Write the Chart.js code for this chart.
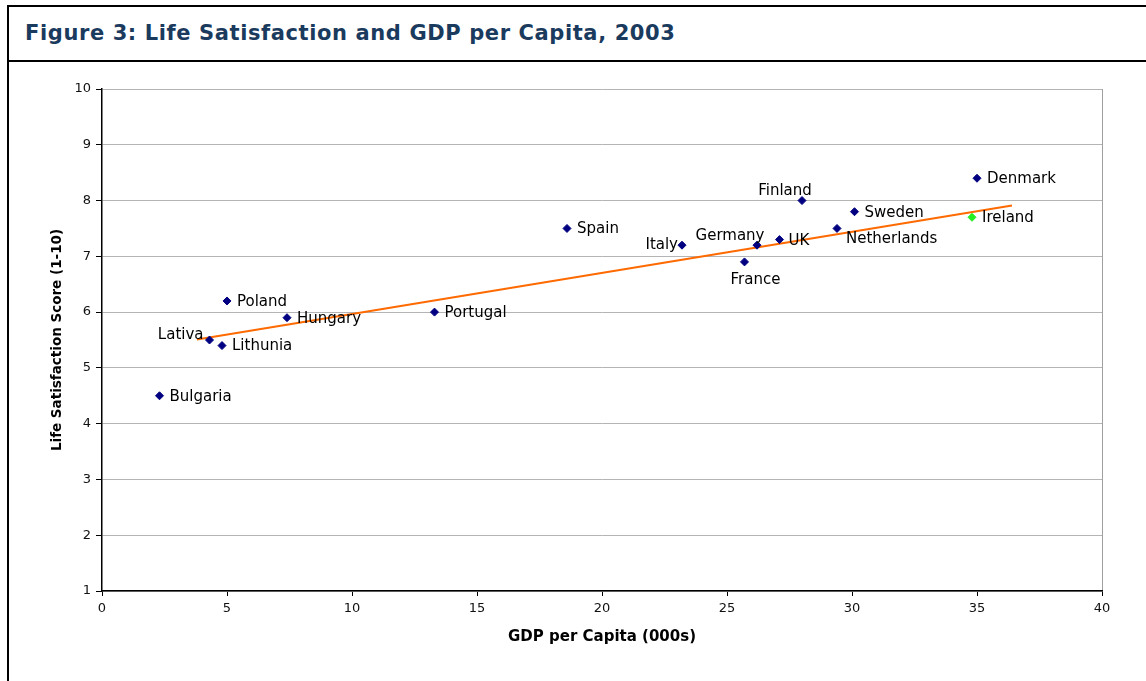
<!DOCTYPE html>
<html>
<head>
<meta charset="utf-8">
<script src="https://cdn.jsdelivr.net/npm/chart.js@4"></script>
<style>
body{margin:0;background:#fff;width:1146px;height:681px;overflow:hidden;position:relative}
#frame{position:absolute;left:7px;top:5px;width:1139px;height:676px;border-left:2px solid #000;border-top:2px solid #000}
#head{position:absolute;left:9px;top:7px;right:0;height:53px;border-bottom:2px solid #000;font:bold 21px "DejaVu Sans";color:#1a3a5e;line-height:53px;padding-left:16px;white-space:nowrap;letter-spacing:0.6px}
#wrap{position:absolute;left:10px;top:62px;width:1136px;height:619px}
</style>
</head>
<body>
<div id="frame"></div>
<div id="head">Figure 3: Life Satisfaction and GDP per Capita, 2003</div>
<div id="wrap"><canvas id="myChart"></canvas></div>
<script>
// data
const countries = ['Denmark','Finland','Sweden','Ireland','Netherlands','Spain','Italy','Germany','UK','France','Poland','Hungary','Portugal','Lativa','Lithunia','Bulgaria']
const gdp = [35.0, 28.0, 30.1, 34.8, 29.4, 18.6, 23.2, 26.2, 27.1, 25.7, 5.0, 7.4, 13.3, 4.3, 4.8, 2.3]
const satisfaction = [8.4, 8.0, 7.8, 7.7, 7.5, 7.5, 7.2, 7.2, 7.3, 6.9, 6.2, 5.9, 6.0, 5.5, 5.4, 4.5]
const trendX = [3.8, 36.4]
const trendY = [5.51, 7.91]
const xTicks = [0, 5, 10, 15, 20, 25, 30, 35, 40]
const yTicks = [1, 2, 3, 4, 5, 6, 7, 8, 9, 10]

// where each label sits relative to its point
const labelPlace = {
  Finland: {dx: -17, dy: -9, align: 'center'},
  Netherlands: {dx: 9, dy: 11, align: 'left'},
  Italy: {dx: -4, dy: 0, align: 'right'},
  Germany: {dx: -27, dy: -9, align: 'center'},
  UK: {dx: 9, dy: 2, align: 'left'},
  France: {dx: 11, dy: 18, align: 'center'},
  Lativa: {dx: -6, dy: -5, align: 'right'}
}

const pointLabels = {
  id: 'pointLabels',
  afterDatasetsDraw(chart) {
    const ctx = chart.ctx
    const meta = chart.getDatasetMeta(0)
    ctx.save()
    ctx.font = '15px "DejaVu Sans"'
    ctx.fillStyle = '#000'
    ctx.textBaseline = 'middle'
    meta.data.forEach((pt, i) => {
      const p = labelPlace[countries[i]] || {dx: 10, dy: 1, align: 'left'}
      ctx.textAlign = p.align
      ctx.fillText(countries[i], pt.x + p.dx, pt.y + p.dy)
    })
    ctx.restore()
  }
}

const tickFont = {family: 'DejaVu Sans', size: 13}

const ctx = document.getElementById('myChart')
new Chart(ctx, {
  type: 'scatter',
  data: {
    datasets: [
      {
        label: 'Countries',
        data: gdp.map((g, i) => ({x: g, y: satisfaction[i]})),
        pointStyle: 'rectRot',
        pointRadius: 4,
        pointBorderWidth: 1,
        pointBackgroundColor: c => countries[c.dataIndex] === 'Ireland' ? '#22ee22' : '#000080',
        pointBorderColor: c => countries[c.dataIndex] === 'Ireland' ? '#22ee22' : '#000080',
        order: 0
      },
      {
        type: 'line',
        label: 'Trend',
        data: trendX.map((x, i) => ({x: x, y: trendY[i]})),
        borderColor: '#ff6a00',
        borderWidth: 2,
        pointRadius: 0,
        fill: false,
        order: 1
      }
    ]
  },
  options: {
    responsive: true,
    maintainAspectRatio: false,
    animation: false,
    layout: {padding: {top: 27, right: 44, left: 0, bottom: 0}},
    plugins: {legend: {display: false}, tooltip: {enabled: false}},
    scales: {
      x: {
        type: 'linear',
        min: 0, max: 40,
        afterBuildTicks: s => { s.ticks = xTicks.map(v => ({value: v})) },
        afterFit: s => { s.height = 90 },
        ticks: {font: tickFont, color: '#111', padding: 5, maxRotation: 0},
        grid: {
          drawOnChartArea: true,
          color: c => c.tick && c.tick.value === 40 ? '#a0a0a0' : 'rgba(0,0,0,0)',
          tickColor: '#000',
          tickLength: 5
        },
        border: {color: '#000', width: 1.5},
        title: {display: true, text: 'GDP per Capita (000s)', font: {family: 'DejaVu Sans', size: 15, weight: 'bold'}, color: '#000', padding: {top: 0, bottom: 35}}
      },
      y: {
        min: 1, max: 10,
        afterBuildTicks: s => { s.ticks = yTicks.map(v => ({value: v})) },
        afterFit: s => { s.width = 92 },
        ticks: {font: tickFont, color: '#111', padding: 5},
        grid: {color: '#b4b4b4', tickColor: '#000', tickLength: 6},
        border: {color: '#000', width: 1.5},
        title: {display: true, text: 'Life Satisfaction Score (1-10)', font: {family: 'DejaVu Sans', size: 13.5, weight: 'bold'}, color: '#000', padding: {top: 39, bottom: 0}}
      }
    }
  },
  plugins: [pointLabels]
})
</script>
</body>
</html>
